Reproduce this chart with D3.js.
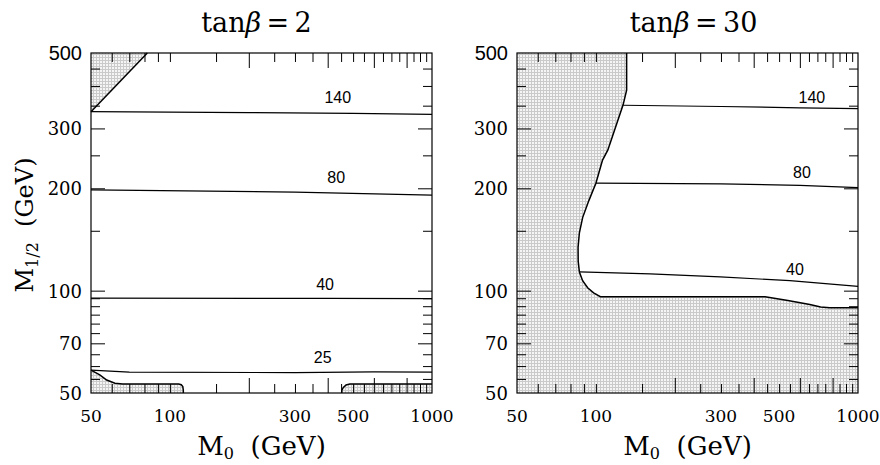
<!DOCTYPE html>
<html>
<head>
<meta charset="utf-8">
<script src="https://cdn.jsdelivr.net/npm/d3@7"></script>
<style>
  body { margin: 0; background: #fff; }
  text { fill: #000; }
</style>
</head>
<body>
<svg id="chart" width="880" height="465"></svg>
<script>
// tick values
const xTicksMinor = [60, 70, 80, 90, 100, 150, 250, 300, 350, 450, 500, 550, 650, 700, 750, 850, 900, 950];
const xTicksMajor = [200, 400, 600, 800];
const xTickLabels = [50, 100, 300, 500, 1000];
const yTicksMinor = [55, 60, 65, 75, 80, 85, 90, 95, 150, 250, 350, 400, 450];
const yTicksMajor = [70, 100, 200, 300];
const yTickLabels = [50, 70, 100, 200, 300, 500];

// tan(beta) = 2 : contours (M0, M1/2)
const left140 = [[50, 336], [200, 334], [500, 332], [1000, 330]];
const left80 = [[50, 198], [300, 195], [1000, 191]];
const left40 = [[50, 95.1], [400, 94.9], [1000, 94.7]];
const left25 = [[50, 58.4], [70, 57.6], [300, 57.4], [600, 57.7], [1000, 57.6]];
const leftLabels = [['140', 437, 371], ['80', 431, 216], ['40', 391, 104.6], ['25', 383, 63.8]];
// excluded regions: boundary edge, then the frame corners that close it
const leftTopEdge = [[82, 500], [50, 336]];
const leftTopCorners = [[50, 500]];
const leftLowEdge = [[50, 58.4], [54, 56.5], [57.4, 54.6], [61.7, 53.4], [66, 53.1], [108, 53.1], [110.5, 52.9], [112, 52.2], [112.5, 51], [112.5, 50]];
const leftLowCorners = [[50, 50]];
const rightLowEdge = [[452, 50], [453, 51], [459, 51.9], [470, 52.8], [486, 53.1], [1000, 53.1]];
const rightLowCorners = [[1000, 50]];

// tan(beta) = 30
const right140 = [[127, 351], [300, 348], [600, 345], [1000, 343]];
const right80 = [[100, 207], [300, 206], [600, 204], [1000, 201]];
const right40 = [[86.5, 113.5], [161, 112], [298, 109.8], [550, 107], [1000, 103]];
const rightLabels = [['140', 667, 371], ['80', 611, 223], ['40', 575, 116]];
const bigEdge = [[131, 500], [131, 389], [127, 352], [111, 259], [106, 242], [100, 207], [94, 184], [89, 164],
  [86.5, 148], [85.5, 134], [85.6, 122], [86.5, 113.5], [89, 107], [93, 102], [98, 98.5], [104, 96],
  [442, 96], [540, 93.5], [655, 91], [720, 89.5], [780, 89], [1000, 89]];
const bigCorners = [[1000, 50], [50, 50], [50, 500]];

const panels = [
  { title: '2', x0: 91, titleDx: -5, contours: [left140, left80, left40, left25], labels: leftLabels,
    regions: [[leftTopEdge, leftTopCorners], [leftLowEdge, leftLowCorners], [rightLowEdge, rightLowCorners]] },
  { title: '30', x0: 517, titleDx: 6, contours: [right140, right80, right40], labels: rightLabels,
    regions: [[bigEdge, bigCorners]] }
];

const W = 341, yTop = 53, yBottom = 393;
const svg = d3.select('#chart');

const pat = svg.append('defs').append('pattern')
  .attr('id', 'grid').attr('patternUnits', 'userSpaceOnUse')
  .attr('width', 3).attr('height', 3);
pat.append('rect').attr('width', 3).attr('height', 3).attr('fill', '#f5f5f5');
pat.append('path').attr('d', 'M0 0.5H3M0.5 0V3').attr('stroke', '#cacaca').attr('stroke-width', 1);

const serif = 'DejaVu Serif';
const sans = 'Liberation Sans';

panels.forEach((p) => {
  const x = d3.scaleLog().domain([50, 1000]).range([p.x0, p.x0 + W]);
  const y = d3.scaleLog().domain([50, 500]).range([yBottom, yTop]);
  const line = d3.line().x((d) => x(d[0])).y((d) => y(d[1]));
  const g = svg.append('g');

  // shaded regions
  p.regions.forEach(([edge, corners]) => {
    g.append('path').attr('d', line(edge.concat(corners)) + 'Z')
      .attr('fill', 'url(#grid)').attr('stroke', 'none');
  });

  // ticks (inward on all four sides)
  const tickAxis = (axis, vals, size, tx, ty) => {
    g.append('g').attr('transform', `translate(${tx},${ty})`)
      .call(axis.tickValues(vals).tickSize(-size).tickFormat(''))
      .call((a) => a.select('.domain').remove())
      .selectAll('line').attr('stroke', '#000').attr('stroke-width', 1);
  };
  tickAxis(d3.axisBottom(x), xTicksMinor, 9, 0, yBottom);
  tickAxis(d3.axisBottom(x), xTicksMajor, 15, 0, yBottom);
  tickAxis(d3.axisTop(x), xTicksMinor, 9, 0, yTop);
  tickAxis(d3.axisTop(x), xTicksMajor, 15, 0, yTop);
  tickAxis(d3.axisLeft(y), yTicksMinor, 9, p.x0, 0);
  tickAxis(d3.axisLeft(y), yTicksMajor, 14, p.x0, 0);
  tickAxis(d3.axisRight(y), yTicksMinor, 9, p.x0 + W, 0);
  tickAxis(d3.axisRight(y), yTicksMajor, 14, p.x0 + W, 0);

  // region outlines
  p.regions.forEach(([edge]) => {
    g.append('path').attr('d', line(edge))
      .attr('fill', 'none').attr('stroke', '#000').attr('stroke-width', 1.5);
  });

  // contours
  p.contours.forEach((c) => {
    g.append('path').attr('d', line(c))
      .attr('fill', 'none').attr('stroke', '#000').attr('stroke-width', 1.2);
  });

  g.selectAll('.clabel').data(p.labels).join('text')
    .attr('x', (d) => x(d[1])).attr('y', (d) => y(d[2]) + 6)
    .attr('text-anchor', 'middle')
    .attr('font-family', sans).attr('font-size', 16)
    .text((d) => d[0]);

  // frame
  g.append('rect').attr('x', p.x0).attr('y', yTop).attr('width', W).attr('height', yBottom - yTop)
    .attr('fill', 'none').attr('stroke', '#000').attr('stroke-width', 1.2);

  // tick labels
  g.selectAll('.xl').data(xTickLabels).join('text')
    .attr('x', (d) => x(d)).attr('y', 422)
    .attr('text-anchor', 'middle')
    .attr('font-family', serif).attr('font-size', 17)
    .text((d) => d);
  g.selectAll('.yl').data(yTickLabels).join('text')
    .attr('x', p.x0 - 9).attr('y', (d) => y(d) + 7)
    .attr('text-anchor', 'end')
    .attr('font-family', (d) => d === 500 ? sans : serif)
    .attr('font-size', (d) => d === 500 ? 20 : 18)
    .text((d) => d);

  // title
  const t = svg.append('text').attr('x', p.x0 + W / 2 + p.titleDx).attr('y', 32)
    .attr('text-anchor', 'middle').attr('font-family', serif).attr('font-size', 27);
  t.append('tspan').text('tan');
  t.append('tspan').attr('font-style', 'italic').text('β');
  t.append('tspan').text('\u2009=\u2009' + p.title);

  // x axis title
  const xt = svg.append('text').attr('x', p.x0 + W / 2).attr('y', 455)
    .attr('text-anchor', 'middle').attr('font-family', serif).attr('font-size', 26);
  xt.append('tspan').text('M');
  xt.append('tspan').attr('font-size', 16).attr('dy', 4).text('0');
  xt.append('tspan').attr('dy', -4).text('\u00a0\u00a0(GeV)');
});

// y axis title
const yt = svg.append('text').attr('transform', 'translate(33,225) rotate(-90)')
  .attr('text-anchor', 'middle').attr('font-family', serif).attr('font-size', 24);
yt.append('tspan').text('M');
yt.append('tspan').attr('font-size', 16).attr('dy', 5).text('1/2');
yt.append('tspan').attr('dy', -5).text('\u00a0\u00a0(GeV)');
</script>
</body>
</html>
